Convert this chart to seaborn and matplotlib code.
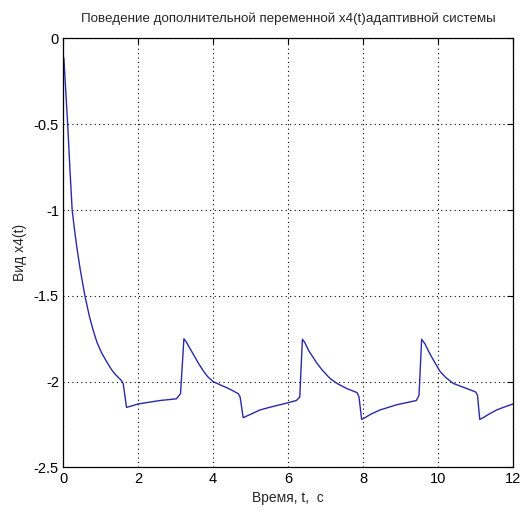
import numpy as np
import pandas as pd
import matplotlib
matplotlib.use("Agg")
import matplotlib.pyplot as plt
import seaborn as sns

# values
t = [0.0, 0.02, 0.07, 0.12, 0.18, 0.24, 0.30, 0.36, 0.45, 0.58, 0.70, 0.80, 0.90, 1.02, 1.15,
     1.29, 1.40, 1.54, 1.60, 1.69, 1.85, 2.0, 2.58,
     3.02, 3.13, 3.22, 3.29, 3.35, 3.47, 3.60, 3.73, 3.85, 4.0, 4.2, 4.36, 4.5, 4.67, 4.72, 4.80,
     4.9, 5.05, 5.25, 5.5, 5.87, 6.22,
     6.31, 6.38, 6.44, 6.55, 6.76, 6.9, 7.11, 7.3, 7.56, 7.84, 7.89, 7.96,
     8.05, 8.2, 8.45, 8.89, 9.42,
     9.49, 9.56, 9.65, 9.75, 9.87, 10.05, 10.2, 10.40, 10.76, 11.0, 11.05, 11.11,
     11.2, 11.35, 11.56, 11.8, 12.0]
x4 = [-0.10, -0.12, -0.31, -0.50, -0.76, -1.00, -1.11, -1.21, -1.34, -1.50, -1.62, -1.70, -1.77, -1.83, -1.88,
      -1.93, -1.96, -1.99, -2.01, -2.15, -2.14, -2.13, -2.11,
      -2.10, -2.07, -1.75, -1.77, -1.795, -1.84, -1.89, -1.935, -1.97, -2.00, -2.02, -2.035, -2.05, -2.07, -2.09, -2.21,
      -2.20, -2.185, -2.165, -2.15, -2.13, -2.11,
      -2.09, -1.753, -1.77, -1.82, -1.89, -1.93, -1.98, -2.01, -2.04, -2.064, -2.09, -2.22,
      -2.21, -2.19, -2.165, -2.135, -2.11,
      -2.08, -1.753, -1.78, -1.825, -1.873, -1.94, -1.975, -2.01, -2.04, -2.06, -2.08, -2.22,
      -2.21, -2.19, -2.165, -2.145, -2.13]

title = "Поведение дополнительной переменной x4(t)адаптивной системы"
xlabel = "Время, t,  c"
ylabel = "Вид x4(t)"
xticks = [0, 2, 4, 6, 8, 10, 12]
yticks = [0, -0.5, -1, -1.5, -2, -2.5]

df = pd.DataFrame({"t": t, "x4": x4})

sns.set_style("white")
plt.rcParams['font.family'] = ['Liberation Sans', 'DejaVu Sans']

fig = plt.figure(figsize=(5.22, 5.12), dpi=100)
ax = fig.add_axes([0.121, 0.087, 0.862, 0.838])
sns.lineplot(data=df, x="t", y="x4", color="#2a2aa8", linewidth=1.0, ax=ax)

ax.set_xlim(0, 12)
ax.set_ylim(-2.5, 0)
ax.set_xticks(xticks)
ax.set_yticks(yticks)
ax.set_xticklabels([str(v) for v in xticks])
ax.set_yticklabels(["0", "-0.5", "-1", "-1.5", "-2", "-2.5"])
ax.grid(True, color="black", linestyle=(0, (1, 3)), linewidth=0.8)
ax.tick_params(direction="in", length=4, width=0.8, top=True, right=True,
               labelsize=10.5, pad=3, colors="black")
for s in ax.spines.values():
    s.set_color("black")
    s.set_linewidth(0.9)

ax.set_title(title, fontsize=9.6, pad=12)
ax.set_xlabel(xlabel, fontsize=10, labelpad=4)
ax.set_ylabel(ylabel, fontsize=10, labelpad=5)

fig.savefig("out.png", dpi=100)
